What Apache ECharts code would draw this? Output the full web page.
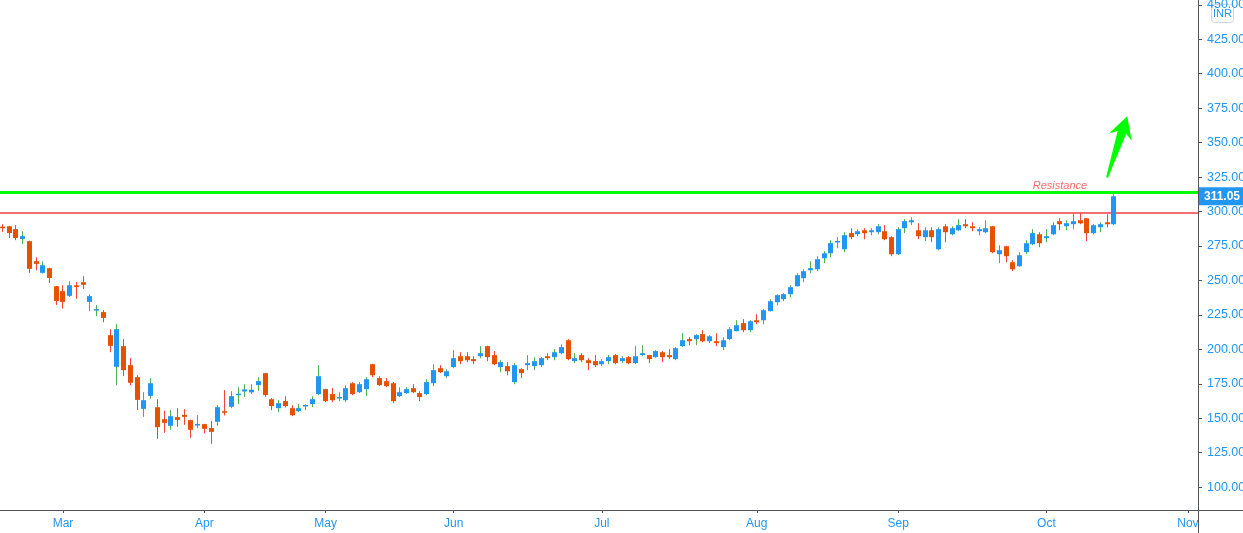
<!DOCTYPE html>
<html>
<head>
<meta charset="utf-8">
<script src="https://cdn.jsdelivr.net/npm/echarts@6/dist/echarts.min.js"></script>
<style>
html,body{margin:0;padding:0;background:#fff;}
#chart{width:1243px;height:533px;}
</style>
</head>
<body>
<div id="chart"></div>
<script>
// ---- categories (trading days) ----
const dates = [
'2020-02-17','2020-02-18','2020-02-19','2020-02-20','2020-02-24','2020-02-25','2020-02-26','2020-02-27','2020-02-28',
'2020-03-02','2020-03-03','2020-03-04','2020-03-05','2020-03-06','2020-03-09','2020-03-11','2020-03-12','2020-03-13','2020-03-16','2020-03-17','2020-03-18','2020-03-19','2020-03-20','2020-03-23','2020-03-24','2020-03-25','2020-03-26','2020-03-27','2020-03-30','2020-03-31',
'2020-04-01','2020-04-03','2020-04-07','2020-04-08','2020-04-09','2020-04-13','2020-04-15','2020-04-16','2020-04-17','2020-04-20','2020-04-21','2020-04-22','2020-04-23','2020-04-24','2020-04-27','2020-04-28','2020-04-29','2020-04-30',
'2020-05-04','2020-05-05','2020-05-06','2020-05-07','2020-05-08','2020-05-11','2020-05-12','2020-05-13','2020-05-14','2020-05-15','2020-05-18','2020-05-19','2020-05-20','2020-05-21','2020-05-22','2020-05-26','2020-05-27','2020-05-28','2020-05-29',
'2020-06-01','2020-06-02','2020-06-03','2020-06-04','2020-06-05','2020-06-08','2020-06-09','2020-06-10','2020-06-11','2020-06-12','2020-06-15','2020-06-16','2020-06-17','2020-06-18','2020-06-19','2020-06-22','2020-06-23','2020-06-24','2020-06-25','2020-06-26','2020-06-29','2020-06-30',
'2020-07-01','2020-07-02','2020-07-03','2020-07-06','2020-07-07','2020-07-08','2020-07-09','2020-07-10','2020-07-13','2020-07-14','2020-07-15','2020-07-16','2020-07-17','2020-07-20','2020-07-21','2020-07-22','2020-07-23','2020-07-24','2020-07-27','2020-07-28','2020-07-29','2020-07-30','2020-07-31',
'2020-08-03','2020-08-04','2020-08-05','2020-08-06','2020-08-07','2020-08-10','2020-08-11','2020-08-12','2020-08-13','2020-08-14','2020-08-17','2020-08-18','2020-08-19','2020-08-20','2020-08-21','2020-08-24','2020-08-25','2020-08-26','2020-08-27','2020-08-28','2020-08-31',
'2020-09-01','2020-09-02','2020-09-03','2020-09-04','2020-09-07','2020-09-08','2020-09-09','2020-09-10','2020-09-11','2020-09-14','2020-09-15','2020-09-16','2020-09-17','2020-09-18','2020-09-21','2020-09-22','2020-09-23','2020-09-24','2020-09-25','2020-09-28','2020-09-29','2020-09-30',
'2020-10-01','2020-10-05','2020-10-06','2020-10-07','2020-10-08','2020-10-09','2020-10-12','2020-10-13','2020-10-14','2020-10-15','2020-10-16'
];
// empty future slots on the right of the last bar
const futureDates = ['2020-10-19','2020-10-20','2020-10-21','2020-10-22','2020-10-23','2020-10-26','2020-10-27','2020-10-28','2020-10-29','2020-10-30','2020-11-02','2020-11-03'];

// ---- series values (INR) ----
const opens = [
289.0,289.3,287.2,280.1,278.5,264.0,255.5,258.9,245.8,242.2,
238.8,246.5,248.7,234.4,228.6,227.0,210.3,187.3,202.3,188.5,
179.8,156.8,166.2,158.0,149.3,144.5,150.8,152.4,148.6,145.2,
145.7,142.8,147.4,155.1,158.3,167.2,169.4,168.8,174.0,182.7,
163.8,157.3,162.4,157.3,155.1,159.0,160.2,167.5,171.1,167.5,
164.8,163.1,175.4,168.9,171.1,189.2,179.1,176.9,175.4,166.0,
168.2,171.8,168.2,167.5,175.4,186.3,180.5,187.1,195.0,195.0,
192.9,195.0,202.3,195.8,187.1,187.8,176.2,185.6,188.5,187.8,
188.5,195.0,194.3,197.2,206.6,191.4,195.8,192.1,191.4,189.2,
191.4,195.8,191.4,194.3,190.0,195.8,195.8,194.3,197.9,195.8,
192.9,202.3,207.4,207.4,211.0,205.9,205.9,201.6,207.4,213.2,
219.0,213.9,221.1,221.1,227.7,234.2,236.4,240.0,245.8,251.6,
257.4,258.1,266.1,269.7,277.7,272.6,284.3,283.5,286.4,285.0,
285.0,285.7,281.4,269.0,287.9,292.2,286.4,281.4,286.4,272.6,
289.3,283.5,286.4,290.8,289.3,285.7,285.0,289.3,269.0,274.8,
263.2,260.3,270.5,276.3,283.5,280.6,283.5,293.0,289.3,290.8,
293.7,295.1,284.3,288.6,292.2,290.8
];
const highs = [
290.8,289.6,290.1,285.7,278.8,266.8,263.9,259.2,246.0,246.5,
249.4,248.9,253.1,240.0,232.0,228.4,214.6,218.2,207.4,193.6,
181.2,168.9,179.1,163.8,155.4,155.9,157.3,156.6,149.0,152.2,
146.0,147.9,159.5,170.4,169.6,172.5,174.7,174.7,179.8,183.0,
164.6,163.1,166.0,159.5,160.2,160.2,166.0,188.5,171.4,171.8,
168.9,174.0,176.2,176.2,179.8,189.5,180.5,179.1,176.2,172.5,
172.5,174.7,169.6,178.3,189.2,188.5,185.6,199.4,197.9,197.9,
195.0,202.3,202.6,198.7,192.1,190.7,190.0,186.3,195.8,194.3,
194.3,197.2,200.1,203.7,207.4,197.2,197.2,193.6,195.8,192.9,
195.8,196.5,195.0,195.0,202.3,203.0,196.1,199.4,198.7,200.1,
201.6,211.7,208.8,211.0,213.9,210.3,211.7,208.8,216.1,221.1,
221.9,221.1,225.5,229.1,236.4,240.0,240.7,246.5,255.2,258.1,
263.9,267.6,271.2,279.2,281.4,285.0,287.9,287.2,287.9,287.9,
290.8,290.1,282.1,288.6,294.4,295.9,291.5,288.6,288.6,288.6,
290.8,289.3,294.4,294.4,292.2,288.6,293.7,289.6,275.5,275.1,
264.7,270.5,279.2,287.2,285.0,287.2,292.2,295.1,293.7,298.8,
298.8,295.4,290.8,292.2,298.0,312.5
];
const lows = [
285.2,280.8,279.2,276.5,255.5,257.4,255.0,248.2,232.2,229.6,
238.0,236.6,243.8,227.7,224.0,219.7,197.9,174.0,180.5,174.0,
155.9,151.0,164.0,135.0,139.4,141.6,143.7,145.2,135.8,142.8,
139.0,131.4,144.5,152.0,157.3,160.2,165.5,167.6,169.9,165.5,
155.9,154.4,157.8,151.5,154.4,155.9,158.0,166.7,161.7,161.7,
162.4,161.7,166.7,168.2,166.0,179.8,173.3,172.5,160.9,165.3,
167.5,168.2,162.4,166.7,173.3,182.7,179.1,186.3,189.2,190.7,
189.2,193.6,191.4,188.5,183.4,181.2,174.7,179.1,184.9,184.9,
187.1,192.1,192.1,196.5,192.1,190.0,190.7,184.9,187.1,187.8,
189.2,189.2,190.0,189.2,189.2,195.0,190.0,194.0,190.7,192.9,
192.1,201.6,203.0,203.0,205.2,204.5,202.3,199.4,206.6,213.0,
212.4,212.4,218.2,218.2,227.5,232.0,234.9,237.8,245.6,248.7,
255.2,256.7,262.5,266.8,273.4,270.5,279.9,282.1,279.9,282.8,
283.5,279.2,267.6,268.3,284.3,290.1,279.9,278.5,277.7,271.9,
277.7,282.8,285.7,287.9,285.7,282.8,284.3,269.7,262.5,263.2,
256.7,260.0,269.0,275.5,274.1,277.7,282.8,286.4,286.4,287.2,
290.8,278.5,283.5,285.0,288.6,290.1
];
const closes = [
288.6,284.4,280.8,282.1,258.4,262.0,261.0,251.8,235.1,234.4,
246.5,245.3,246.8,238.6,229.2,222.8,202.5,214.6,184.9,175.7,
163.3,163.1,175.4,143.5,146.6,151.5,148.8,151.0,141.6,145.8,
142.3,140.1,158.0,153.9,166.0,167.8,170.9,170.7,176.9,166.8,
158.8,160.9,158.8,152.2,157.3,159.6,163.8,180.5,162.4,163.1,
165.4,171.8,167.5,174.7,178.3,181.2,174.0,173.3,162.4,168.9,
171.1,168.9,165.3,176.2,184.9,183.4,184.1,193.6,191.4,192.1,
191.4,197.2,194.3,189.2,190.7,184.1,188.5,182.7,190.0,191.4,
193.6,193.6,197.9,201.6,192.9,193.6,192.1,190.0,188.5,191.4,
194.3,190.0,193.6,190.0,195.0,197.2,192.9,198.7,194.3,194.3,
200.8,206.6,205.9,210.3,205.9,209.5,204.5,206.6,214.6,217.5,
213.9,220.4,219.7,228.4,234.9,239.3,240.0,245.1,253.8,256.7,
258.9,265.4,269.7,277.0,278.6,282.8,281.4,285.7,284.3,286.4,
289.3,279.9,269.0,287.2,293.0,293.7,282.1,286.4,281.4,287.2,
285.0,287.9,290.1,289.3,287.9,287.2,287.9,270.5,271.9,267.6,
258.1,268.3,277.0,284.3,277.0,282.1,290.1,290.8,291.5,293.0,
291.5,284.3,290.1,290.8,290.8,311.05
];

// ---- tick labels / levels / annotations ----
const monthNames = ['Jan','Feb','Mar','Apr','May','Jun','Jul','Aug','Sep','Oct','Nov','Dec'];
const priceTicks = [100,125,150,175,200,225,250,275,300,325,350,375,400,425,450];
const lastPrice = 311.05;
const resistanceLevel = 314.1;   // thick green line
const previousHighLevel = 299.0; // thin red line
const resistanceText = 'Resistance';
const resistanceTextAt = [157, 318.4];   // [bar index, price]
const arrowBase = [164.0, 324.7];        // [bar index, price]
const arrowTip = [167.1, 369.1];         // [bar index, price]
const currency = 'INR';

// ---- styles ----
const BODY_UP = '#2196F3', BODY_DOWN = '#E65100';
const WICK_UP = '#4CAF50', WICK_DOWN = '#F44336';
const AXIS_TEXT = '#2196F3', AXIS_LINE = '#50535E';
const FONT = 'Liberation Sans, Arial, sans-serif';

const allDates = dates.concat(futureDates);
const candleData = dates.map((d, i) => [i, opens[i], closes[i], lows[i], highs[i]]);

function isMonthStart(index) {
  if (index === 0) return false;
  return allDates[index].slice(5, 7) !== allDates[index - 1].slice(5, 7);
}

function renderCandle(params, api) {
  const i = api.value(0), o = api.value(1), c = api.value(2), l = api.value(3), h = api.value(4);
  const pO = api.coord([i, o]), pC = api.coord([i, c]);
  const pL = api.coord([i, l]), pH = api.coord([i, h]);
  const band = api.size([1, 0])[0];
  const w = Math.max(1, Math.round(band * 0.74));
  const x = Math.round(pO[0] - w / 2);
  const cx = x + Math.floor(w / 2) + 0.5;
  const up = c >= o;
  const top = Math.min(pO[1], pC[1]);
  const hgt = Math.max(Math.abs(pO[1] - pC[1]), 1.5);
  return {
    type: 'group',
    children: [
      { type: 'line', shape: { x1: cx, y1: pH[1], x2: cx, y2: pL[1] },
        style: { stroke: up ? WICK_UP : WICK_DOWN, lineWidth: 1 } },
      { type: 'rect', shape: { x: x, y: top, width: w, height: hgt },
        style: { fill: up ? BODY_UP : BODY_DOWN } }
    ]
  };
}

function renderArrow(params, api) {
  const B = api.coord(arrowBase), T = api.coord(arrowTip);
  const dx = T[0] - B[0], dy = T[1] - B[1];
  const L = Math.sqrt(dx * dx + dy * dy);
  const ux = dx / L, uy = dy / L;      // along
  const nx = -uy, ny = ux;             // normal
  const P = (a, s) => [T[0] - ux * a + nx * s, T[1] - uy * a + ny * s];
  const pts = [
    [B[0] + nx * 1, B[1] + ny * 1],
    P(17, 4.5), P(22, 12), [T[0], T[1]], P(22, -12), P(17, -4.5),
    [B[0] - nx * 1, B[1] - ny * 1]
  ];
  return { type: 'polygon', shape: { points: pts }, style: { fill: '#00FF00' } };
}

const chart = echarts.init(document.getElementById('chart'), null, { renderer: 'canvas' });
chart.setOption({
  animation: false,
  backgroundColor: '#ffffff',
  grid: { left: -1, right: 45, top: 0, bottom: 23, containLabel: false, outerBoundsMode: 'none' },
  xAxis: {
    type: 'category',
    data: allDates,
    boundaryGap: true,
    axisLine: { show: true, lineStyle: { color: AXIS_LINE, width: 1 } },
    axisTick: { show: true, alignWithLabel: true, length: 3, interval: (idx) => isMonthStart(idx),
                lineStyle: { color: AXIS_LINE } },
    axisLabel: {
      interval: (idx) => isMonthStart(idx),
      formatter: (v) => monthNames[parseInt(v.slice(5, 7), 10) - 1],
      color: AXIS_TEXT, fontSize: 12, margin: 8, fontFamily: FONT
    },
    splitLine: { show: false }
  },
  yAxis: {
    type: 'value',
    position: 'right',
    min: 83.4,
    max: 453.5,
    scale: true,
    axisLine: { show: true, lineStyle: { color: AXIS_LINE, width: 1 } },
    axisTick: { show: true, inside: false, length: 4, customValues: priceTicks, lineStyle: { color: AXIS_LINE } },
    axisLabel: {
      customValues: priceTicks,
      formatter: (v) => Number(v).toFixed(2),
      color: AXIS_TEXT, fontSize: 12.5, margin: 9, fontFamily: FONT
    },
    splitLine: { show: false }
  },
  graphic: [
    { type: 'line', silent: true, shape: { x1: 1198.5, y1: 0, x2: 1198.5, y2: 533 }, style: { stroke: AXIS_LINE, lineWidth: 1 }, z: 50 },
    { type: 'line', silent: true, shape: { x1: 0, y1: 510.5, x2: 1243, y2: 510.5 }, style: { stroke: AXIS_LINE, lineWidth: 1 }, z: 50 },
    { type: 'group', right: 9, top: 4, z: 60, children: [
      { type: 'rect', shape: { x: 0, y: 0, width: 22, height: 18, r: 3 }, style: { fill: '#ffffff', stroke: '#D1D4DC', lineWidth: 1 } },
      { type: 'text', x: 11, y: 9, style: { text: currency, fill: AXIS_TEXT, fontSize: 11, align: 'center', verticalAlign: 'middle', fontFamily: FONT } }
    ]}
  ],
  series: [
    {
      name: 'levels',
      type: 'line',
      data: [],
      silent: true,
      markLine: {
        silent: true,
        symbol: ['none', 'none'],
        animation: false,
        data: [
          { yAxis: previousHighLevel, lineStyle: { color: '#F23F3F', width: 1.5, type: 'solid' }, label: { show: false } },
          { yAxis: resistanceLevel, lineStyle: { color: '#00FF00', width: 3, type: 'solid' }, label: { show: false } },
          { yAxis: lastPrice, lineStyle: { color: 'rgba(0,0,0,0)', width: 0 },
            label: { show: true, position: 'end', distance: 0, formatter: () => lastPrice.toFixed(2),
                     color: '#ffffff', backgroundColor: BODY_UP, fontWeight: 'bold', fontSize: 12,
                     padding: [3, 6, 3, 6], fontFamily: FONT } }
        ]
      },
      markPoint: {
        silent: true,
        symbol: 'rect',
        symbolSize: 1,
        itemStyle: { color: 'transparent' },
        data: [{ coord: resistanceTextAt, value: resistanceText,
                 label: { show: true, position: 'inside', formatter: resistanceText, color: '#F46A6A',
                          fontStyle: 'italic', fontSize: 11, fontFamily: FONT } }]
      },
      z: 3
    },
    {
      name: 'price',
      type: 'custom',
      renderItem: renderCandle,
      data: candleData,
      encode: { x: 0, y: [1, 2, 3, 4] },
      z: 5
    },
    {
      name: 'arrow',
      type: 'custom',
      renderItem: renderArrow,
      data: [[arrowBase[0], arrowBase[1]]],
      encode: { x: 0, y: 1 },
      silent: true,
      z: 6
    }
  ]
});
</script>
</body>
</html>
